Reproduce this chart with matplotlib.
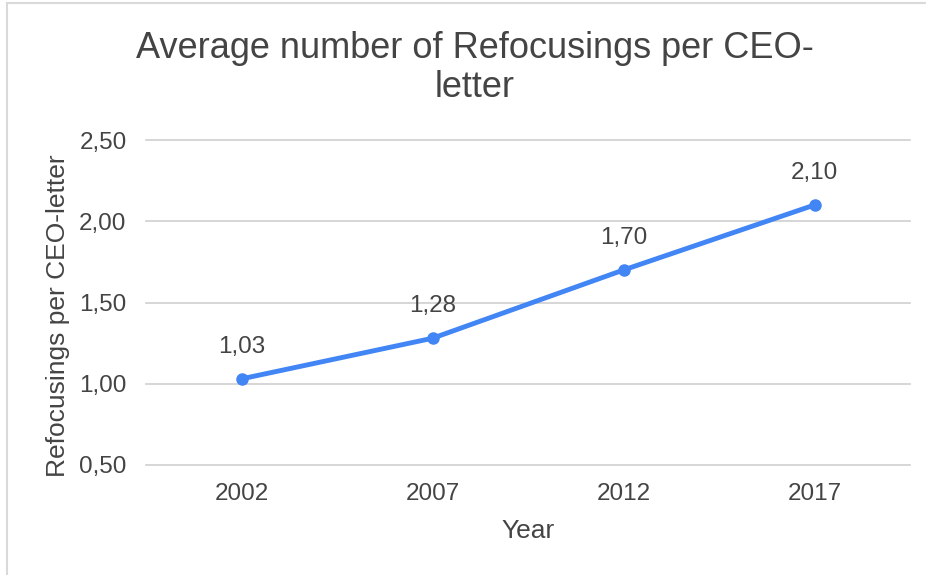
import matplotlib.pyplot as plt
from matplotlib.patches import Rectangle

plt.rcParams['font.family'] = ['Liberation Sans', 'DejaVu Sans']

years = ['2002', '2007', '2012', '2017']
values = [1.03, 1.28, 1.70, 2.10]
value_labels = ['1,03', '1,28', '1,70', '2,10']
y_ticks = [0.5, 1.0, 1.5, 2.0, 2.5]
y_tick_labels = ['0,50', '1,00', '1,50', '2,00', '2,50']

text_col = '#444444'
blue = '#4285F4'

fig = plt.figure(figsize=(9.26, 5.75), dpi=100)
ax = fig.add_axes([146 / 926, 1 - 465 / 575, 764 / 926, 325 / 575])

x = range(len(years))
ax.plot(x, values, color=blue, linewidth=3.5, marker='o', markersize=8, zorder=3)
for xi, v, lab in zip(x, values, value_labels):
    ax.annotate(lab, (xi, v), xytext=(0, 23), textcoords='offset points',
                ha='center', va='center', fontsize=17.5, color=text_col)

ax.set_xlim(-0.5, 3.5)
ax.set_ylim(0.5, 2.5)
ax.set_xticks(list(x))
ax.set_xticklabels(years)
ax.set_yticks(y_ticks)
ax.set_yticklabels(y_tick_labels)
ax.tick_params(length=0, labelsize=17.5, labelcolor=text_col)
ax.tick_params(axis='x', pad=13)
ax.tick_params(axis='y', pad=14)
ax.grid(axis='y', color='#d0d0d0', linewidth=1.2)
for gl in ax.get_ygridlines():
    gl.set_clip_on(False)
ax.set_axisbelow(True)
for s in ax.spines.values():
    s.set_visible(False)

ax.set_xlabel('Year', fontsize=19, color=text_col, labelpad=10)
ax.set_ylabel('Refocusings per CEO-letter', fontsize=19, color=text_col)
ax.yaxis.set_label_coords(-0.1, 0.46)

fig.text(475 / 926, 1 - 68 / 575, 'Average number of Refocusings per CEO-\nletter',
         ha='center', va='center', fontsize=26, color=text_col, linespacing=1.17)

fig.patches.append(Rectangle((7 / 926, -0.1), 1.1, 1 - 3 / 575 + 0.1,
                             transform=fig.transFigure, fill=False,
                             edgecolor='#d9d9d9', linewidth=1.5))

fig.savefig('out.png', dpi=100)
